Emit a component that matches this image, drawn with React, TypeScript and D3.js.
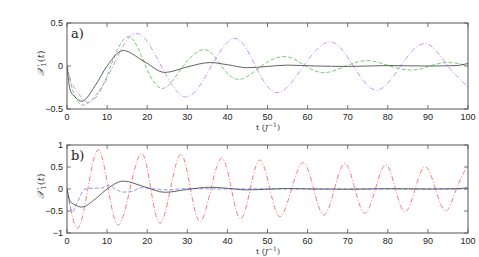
import React from "react";
import * as d3 from "d3";

// t in J^-1
const xTicks = [0, 10, 20, 30, 40, 50, 60, 70, 80, 90, 100];
const aTicks = [-0.5, 0, 0.5];
const bTicks = [-1, -0.5, 0, 0.5, 1];

const blackCurve: [number, number][] = [
  [0, 0], [0.8, -0.28], [2, -0.36], [3.7, -0.41], [7, -0.23], [10, 0], [14, 0.18],
  [19, 0.06], [24.4, -0.075], [30, -0.01], [35.7, 0.04], [40, 0.015], [45, -0.02],
  [50, -0.005], [55, 0.01], [62, 0], [70, -0.005], [80, 0.005], [90, 0], [97, 0.005], [100, 0.03],
];

const greenCurve: [number, number][] = [
  [0, 0], [1.7, -0.32], [4.6, -0.45], [8.7, -0.24], [10.9, 0], [15.2, 0.34], [19.6, 0],
  [24, -0.26], [29, 0], [34.4, 0.19], [38.5, 0], [43, -0.155], [48.5, 0], [54.4, 0.11],
  [59.5, 0], [64.3, -0.078], [69.5, 0], [75, 0.062], [80.5, 0], [86, -0.047], [90.5, 0],
  [95, 0.04], [100, 0.005],
];

const purpleCurve: [number, number][] = [
  [0, 0], [1.2, -0.2], [2.9, -0.32], [6.2, -0.41], [11.5, 0], [17.3, 0.38], [23.5, 0],
  [29.8, -0.36], [36, 0], [41.9, 0.32], [47, 0], [52.5, -0.31], [59, 0], [65.6, 0.28],
  [71.4, 0], [77.2, -0.28], [83.2, 0], [89.3, 0.26], [95, 0], [100, -0.24],
];

const redCurve: [number, number][] = [
  [0, 0], [2.6, -0.89], [5.2, 0], [7.8, 0.89], [10.3, 0], [12.8, -0.82], [15.7, 0],
  [18.6, 0.81], [20.9, 0], [23.2, -0.78], [25.8, 0], [28.4, 0.79], [30.8, 0], [33.2, -0.74],
  [35.9, 0], [38.6, 0.7], [41, 0], [43.3, -0.68], [45.7, 0], [48.1, 0.66], [50.6, 0],
  [53.1, -0.63], [56, 0], [58.9, 0.6], [61.5, 0], [64.1, -0.59], [66.7, 0], [69.3, 0.58],
  [71.8, 0], [74.3, -0.55], [76.9, 0], [79.5, 0.55], [81.9, 0], [84.3, -0.52], [86.8, 0],
  [89.3, 0.51], [91.9, 0], [94.5, -0.5], [97.1, 0], [99.7, 0.5], [100, 0.5],
];

const blueCurve: [number, number][] = [
  [0, 0], [0.6, -0.3], [1.3, -0.52], [2.6, -0.3], [4.5, 0], [7, 0.02], [8.5, 0.02],
  [10.3, 0.09], [12, 0], [14, -0.07], [16, -0.06], [18.5, 0.03], [21, 0.01], [25, -0.02],
  [30, 0.01], [40, 0], [50, 0.005], [60, 0], [70, 0], [80, 0.005], [90, 0], [100, 0],
];

const W = 479;
const H = 257;
const left = 67;
const right = 468;
const frame = "#555";
const tickFont = "'Liberation Sans', Arial, sans-serif";
const serif = "'DejaVu Serif', 'Liberation Serif', serif";

type Series = { data: [number, number][]; color: string; dash?: string; curve: d3.CurveFactory };

const fmt = (v: number) => (v < 0 ? "\u2212" + Math.abs(v) : String(v));

function Panel(props: {
  id: string;
  top: number;
  bottom: number;
  yDomain: [number, number];
  yTicks: number[];
  tag: string;
  series: Series[];
}) {
  const { id, top, bottom, yDomain, yTicks, tag, series } = props;
  const x = d3.scaleLinear().domain([0, 100]).range([left, right]);
  const y = d3.scaleLinear().domain(yDomain).range([bottom, top]);
  const mid = (top + bottom) / 2;

  return (
    <g>
      <defs>
        <clipPath id={id}>
          <rect x={left} y={top} width={right - left} height={bottom - top} />
        </clipPath>
      </defs>
      <g clipPath={`url(#${id})`}>
        {series.map((s, i) => {
          const line = d3
            .line<[number, number]>()
            .x((d) => x(d[0]))
            .y((d) => y(d[1]))
            .curve(s.curve);
          return (
            <path
              key={i}
              d={line(s.data) || ""}
              fill="none"
              stroke={s.color}
              strokeWidth={0.8}
              strokeDasharray={s.dash}
            />
          );
        })}
      </g>
      <rect x={left} y={top} width={right - left} height={bottom - top} fill="none" stroke={frame} strokeWidth={1} />
      {xTicks.map((t) => (
        <g key={t}>
          <line x1={x(t)} x2={x(t)} y1={bottom} y2={bottom - 4} stroke={frame} strokeWidth={0.8} />
          <line x1={x(t)} x2={x(t)} y1={top} y2={top + 4} stroke={frame} strokeWidth={0.8} />
          <text x={x(t)} y={bottom + 11} textAnchor="middle" fontSize={9} fontFamily={tickFont} fill="#222">
            {t}
          </text>
        </g>
      ))}
      {yTicks.map((v) => (
        <g key={v}>
          <line x1={left} x2={left + 4} y1={y(v)} y2={y(v)} stroke={frame} strokeWidth={0.8} />
          <line x1={right} x2={right - 4} y1={y(v)} y2={y(v)} stroke={frame} strokeWidth={0.8} />
          <text x={left - 4} y={y(v) + 3} textAnchor="end" fontSize={9} fontFamily={tickFont} fill="#222">
            {fmt(v)}
          </text>
        </g>
      ))}
      <text x={71} y={top + 15} fontSize={13} fontFamily={serif} fill="#222">
        {tag}
      </text>
      <text
        transform={`translate(44,${mid - 3}) rotate(-90)`}
        textAnchor="middle"
        fontSize={10}
        fontFamily={serif}
        fill="#333"
      >
        <tspan fontStyle="italic">𝒳</tspan>
        <tspan fontSize={7} dy={2}>1</tspan>
        <tspan dy={-2}>(</tspan>
        <tspan fontStyle="italic">t</tspan>
        <tspan>)</tspan>
      </text>
      <text x={268} y={bottom + 21} textAnchor="middle" fontSize={8} fontFamily={serif} fill="#333">
        <tspan>t  (</tspan>
        <tspan fontStyle="italic">J</tspan>
        <tspan fontSize={6} dy={-3}>−1</tspan>
        <tspan dy={3}>)</tspan>
      </text>
    </g>
  );
}

export default function App() {
  const panelA: Series[] = [
    { data: greenCurve, color: "#4cc04c", dash: "4,2", curve: d3.curveNatural },
    { data: purpleCurve, color: "#bf75ff", dash: "5,2,1,2", curve: d3.curveNatural },
    { data: blackCurve, color: "#3a3a3a", curve: d3.curveMonotoneX },
  ];
  const panelB: Series[] = [
    { data: redCurve, color: "#ff5858", dash: "5,2,1,2", curve: d3.curveNatural },
    { data: blueCurve, color: "#6a7fff", dash: "4,2", curve: d3.curveMonotoneX },
    { data: blackCurve, color: "#3a3a3a", curve: d3.curveMonotoneX },
  ];
  return (
    <svg
      width={W}
      height={H}
      style={{ position: "absolute", left: 0, top: 0, background: "#fff" }}
    >
      <Panel id="clipA" top={23} bottom={109} yDomain={[-0.5, 0.5]} yTicks={aTicks} tag="a)" series={panelA} />
      <Panel id="clipB" top={145} bottom={233} yDomain={[-1, 1]} yTicks={bTicks} tag="b)" series={panelB} />
    </svg>
  );
}
